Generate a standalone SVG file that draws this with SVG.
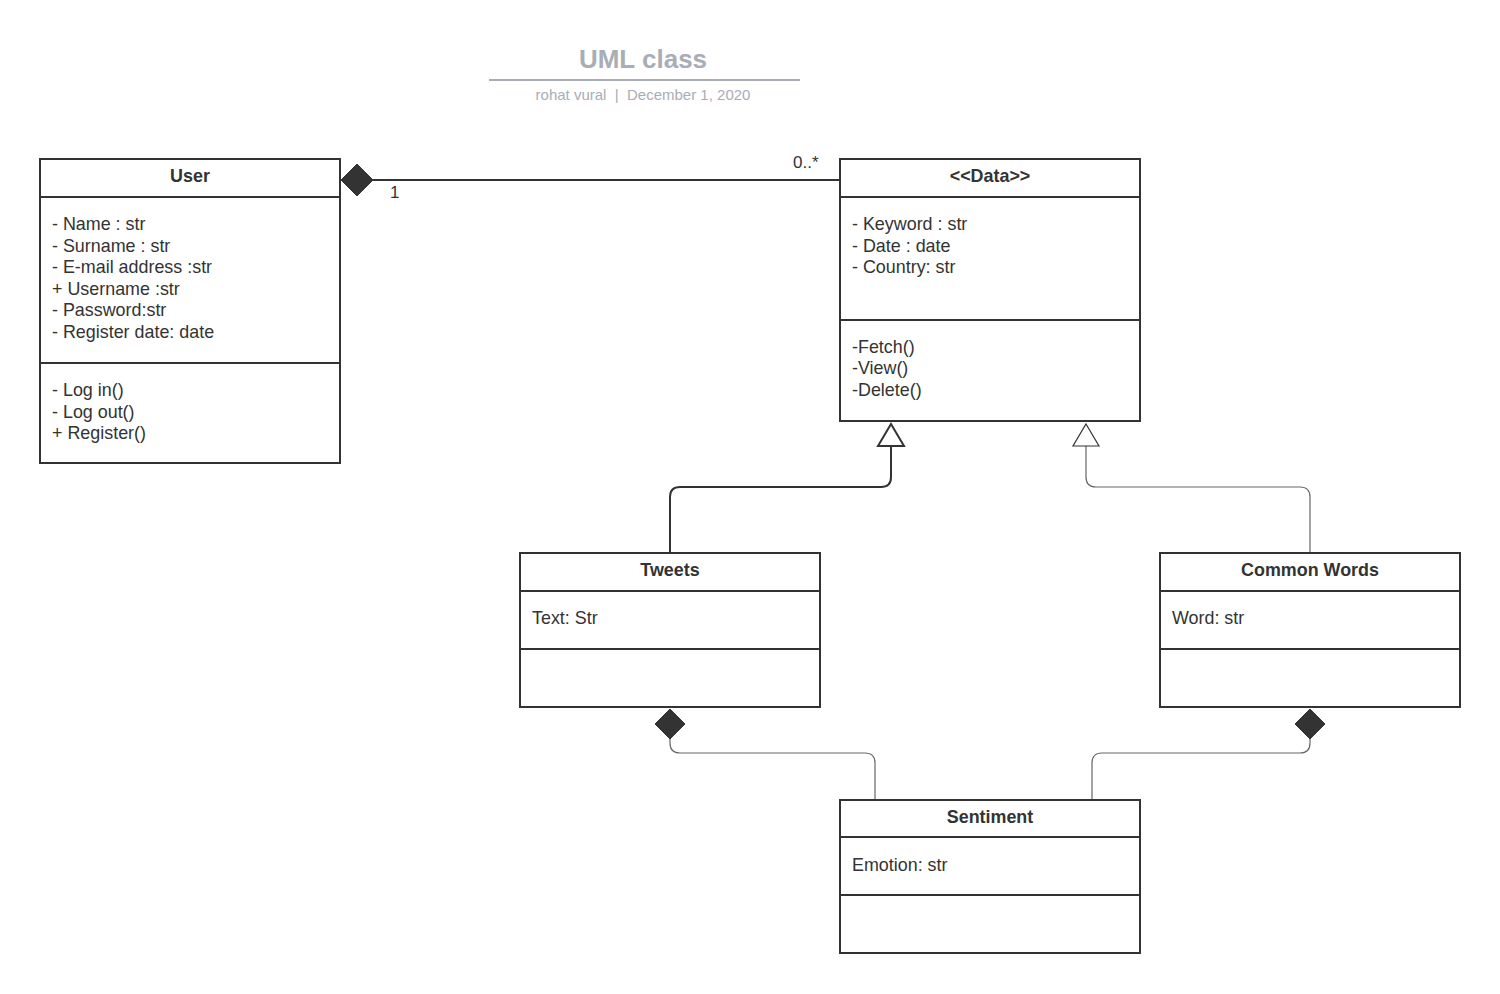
<svg xmlns="http://www.w3.org/2000/svg" width="1500" height="994" viewBox="0 0 1500 994">
<style>
.box{fill:#fff;stroke:#333;stroke-width:2}
.sep{stroke:#333;stroke-width:2}
.hd{font-family:"Liberation Sans",Arial,sans-serif;font-size:17.9px;font-weight:bold;fill:#333;text-anchor:middle}
.tx{font-family:"Liberation Sans",Arial,sans-serif;font-size:17.9px;fill:#333}
.lbl{font-family:"Liberation Sans",Arial,sans-serif;font-size:17px;fill:#333}
.thick{fill:none;stroke:#333;stroke-width:2}
.thin{fill:none;stroke:#666;stroke-width:1.2}
.dia{fill:#333;stroke:#333;stroke-width:1}
.tri{fill:#fff;stroke:#333;stroke-width:2}
.tri2{fill:#fff;stroke:#333;stroke-width:1.2}
</style>
<rect width="1500" height="994" fill="#fff"/>
<g id="title">
<text x="643" y="68" font-family="Liberation Sans,Arial,sans-serif" font-size="26" font-weight="bold" fill="#a9adb6" text-anchor="middle">UML class</text>
<line x1="489" y1="80" x2="800" y2="80" stroke="#a9adb6" stroke-width="2"/>
<text x="643" y="100" font-family="Liberation Sans,Arial,sans-serif" font-size="15" fill="#a9adb6" text-anchor="middle" xml:space="preserve" style="white-space:pre">rohat vural  |  December 1, 2020</text>
</g>
<g id="connectors">
<line x1="373" y1="180" x2="840" y2="180" class="thick"/>
<polygon points="341,180 357,164 373,180 357,196" class="dia"/>
<text x="390" y="198" class="lbl">1</text>
<text x="793" y="168" class="lbl">0..*</text>
<path d="M670,553 V497 Q670,487 680,487 H881 Q891,487 891,477 V446" class="thick"/>
<polygon points="891,424 904,446 878,446" class="tri"/>
<path d="M1310,553 V497 Q1310,487 1300,487 H1096 Q1086,487 1086,477 V446" class="thin"/>
<polygon points="1086,424 1099,446 1073,446" class="tri2"/>
<polygon points="670,709 685,724 670,739 655,724" class="dia"/>
<path d="M670,739 V743 Q670,753 680,753 H865 Q875,753 875,763 V800" class="thin"/>
<polygon points="1310,709 1325,724 1310,739 1295,724" class="dia"/>
<path d="M1310,739 V743 Q1310,753 1300,753 H1102 Q1092,753 1092,763 V800" class="thin"/>
</g>
<g id="user">
<rect x="40" y="159" width="300" height="304" class="box"/>
<line x1="40" y1="197" x2="340" y2="197" class="sep"/>
<line x1="40" y1="363" x2="340" y2="363" class="sep"/>
<text x="190" y="182" class="hd">User</text>
<text x="52" y="230" class="tx">- Name : str</text>
<text x="52" y="252" class="tx">- Surname : str</text>
<text x="52" y="273" class="tx">- E-mail address :str</text>
<text x="52" y="295" class="tx">+ Username :str</text>
<text x="52" y="316" class="tx">- Password:str</text>
<text x="52" y="338" class="tx">- Register date: date</text>
<text x="52" y="396" class="tx">- Log in()</text>
<text x="52" y="418" class="tx">- Log out()</text>
<text x="52" y="439" class="tx">+ Register()</text>
</g>
<g id="data">
<rect x="840" y="159" width="300" height="262" class="box"/>
<line x1="840" y1="197" x2="1140" y2="197" class="sep"/>
<line x1="840" y1="320" x2="1140" y2="320" class="sep"/>
<text x="990" y="182" class="hd">&lt;&lt;Data&gt;&gt;</text>
<text x="852" y="230" class="tx">- Keyword : str</text>
<text x="852" y="252" class="tx">- Date : date</text>
<text x="852" y="273" class="tx">- Country: str</text>
<text x="852" y="353" class="tx">-Fetch()</text>
<text x="852" y="374" class="tx">-View()</text>
<text x="852" y="396" class="tx">-Delete()</text>
</g>
<g id="tweets">
<rect x="520" y="553" width="300" height="154" class="box"/>
<line x1="520" y1="591" x2="820" y2="591" class="sep"/>
<line x1="520" y1="649" x2="820" y2="649" class="sep"/>
<text x="670" y="576" class="hd">Tweets</text>
<text x="532" y="624" class="tx">Text: Str</text>
</g>
<g id="commonwords">
<rect x="1160" y="553" width="300" height="154" class="box"/>
<line x1="1160" y1="591" x2="1460" y2="591" class="sep"/>
<line x1="1160" y1="649" x2="1460" y2="649" class="sep"/>
<text x="1310" y="576" class="hd">Common Words</text>
<text x="1172" y="624" class="tx">Word: str</text>
</g>
<g id="sentiment">
<rect x="840" y="800" width="300" height="153" class="box"/>
<line x1="840" y1="837" x2="1140" y2="837" class="sep"/>
<line x1="840" y1="895" x2="1140" y2="895" class="sep"/>
<text x="990" y="823" class="hd">Sentiment</text>
<text x="852" y="871" class="tx">Emotion: str</text>
</g>
</svg>
